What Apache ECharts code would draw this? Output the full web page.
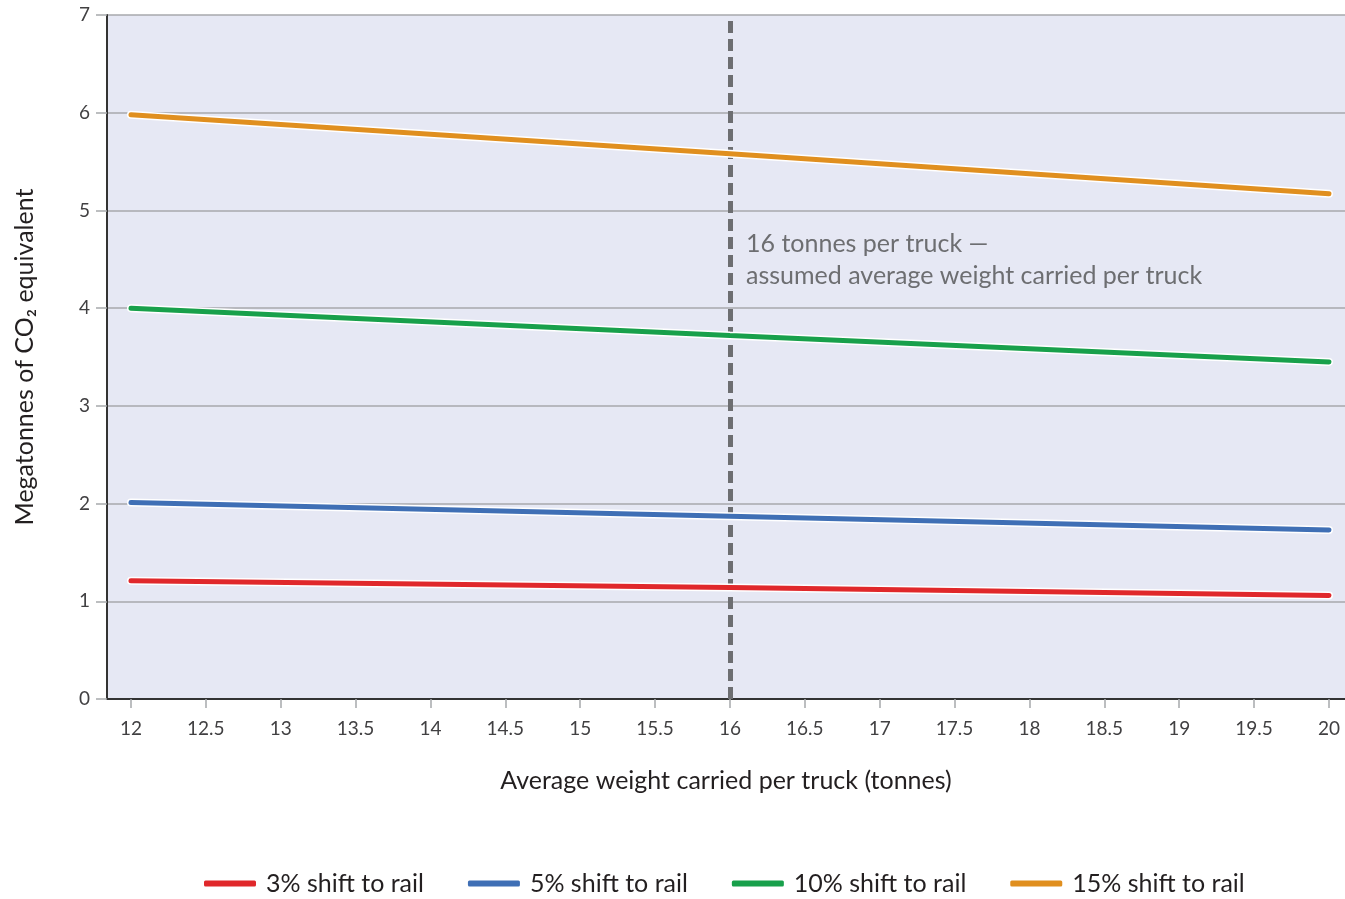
<!DOCTYPE html>
<html><head><meta charset="utf-8">
<script src="https://cdn.jsdelivr.net/npm/echarts@6/dist/echarts.min.js"></script>
<style>html,body{margin:0;padding:0;background:#fff}#c{width:1345px;height:899px}</style>
</head><body><div id="c"></div>
<script>
const weights = [12, 16, 20];
const shift3 = [1.21, 1.14, 1.06];
const shift5 = [2.01, 1.87, 1.73];
const shift10 = [4.0, 3.72, 3.45];
const shift15 = [5.98, 5.58, 5.17];
const xTickLabels = [12,12.5,13,13.5,14,14.5,15,15.5,16,16.5,17,17.5,18,18.5,19,19.5,20];
const yTicks = [0,1,2,3,4,5,6,7];
const seriesNames = ['3% shift to rail','5% shift to rail','10% shift to rail','15% shift to rail'];
const seriesVals = [shift3, shift5, shift10, shift15];
const colors = ['#e0282b','#3f6fb5','#18a04b','#e08f1f'];
const assumedWeight = 16;

const FONT = 'Lato';
const chart = echarts.init(document.getElementById('c'));
const series = [];
seriesVals.forEach((vals, i) => {
  const data = weights.map((w, j) => [w, vals[j]]);
  series.push({ type:'line', name:'_bg'+i, data, symbol:'none', silent:true, z:2,
    lineStyle:{color:'#ffffff', width:8, cap:'round'} });
});
seriesVals.forEach((vals, i) => {
  const data = weights.map((w, j) => [w, vals[j]]);
  const s = { type:'line', name:seriesNames[i], data, symbol:'none', z:3,
    color:colors[i], lineStyle:{color:colors[i], width:5, cap:'round'} };
  if (i === 0) {
    s.markLine = { silent:true, symbol:'none', z:1, label:{show:false},
      lineStyle:{color:'#6d6e71', width:5, type:[12,6]},
      data:[[{coord:[assumedWeight,0]},{coord:[assumedWeight,7]}]] };
  }
  series.push(s);
});

chart.setOption({
  animation:false,
  textStyle:{fontFamily:FONT},
  grid:{left:107, right:0, top:15, bottom:200, show:true, backgroundColor:'#e6e8f4', borderWidth:0},
  legend:{ data:seriesNames, bottom:-2, left:199, itemWidth:52, itemHeight:6, itemGap:44,
    icon:'roundRect', textStyle:{fontFamily:FONT, fontSize:25, color:'#231f20', padding:[0,0,0,5]} },
  xAxis:{ type:'value', min:11.84, max:20.107,
    name:'Average weight carried per truck (tonnes)', nameLocation:'middle', nameGap:69,
    nameTextStyle:{fontFamily:FONT, fontSize:25, color:'#231f20'},
    axisLine:{show:true, lineStyle:{color:'#333333', width:2}},
    axisTick:{show:true, length:9, lineStyle:{color:'#a7a9ac', width:1.5}, customValues:xTickLabels},
    axisLabel:{customValues:xTickLabels, margin:20, fontSize:19, color:'#414042', fontFamily:FONT},
    splitLine:{show:false} },
  yAxis:{ type:'value', min:0, max:7, interval:1,
    name:'Megatonnes of CO₂ equivalent', nameLocation:'middle', nameGap:70, nameRotate:90,
    nameTextStyle:{fontFamily:FONT, fontSize:25, color:'#231f20'},
    axisLine:{show:true, lineStyle:{color:'#333333', width:2}},
    axisTick:{show:true, length:11, lineStyle:{color:'#a7a9ac', width:1.5}},
    axisLabel:{margin:17, fontSize:19, color:'#414042', fontFamily:FONT},
    splitLine:{show:true, lineStyle:{color:'#a7a9ac', width:1.5}} },
  graphic:[{ type:'text', left:746, top:228, z:10,
    style:{ text:'16 tonnes per truck —\nassumed average weight carried per truck',
      font:'25px '+FONT, fill:'#6d6e71', lineHeight:32 } }],
  series
});
</script></body></html>
